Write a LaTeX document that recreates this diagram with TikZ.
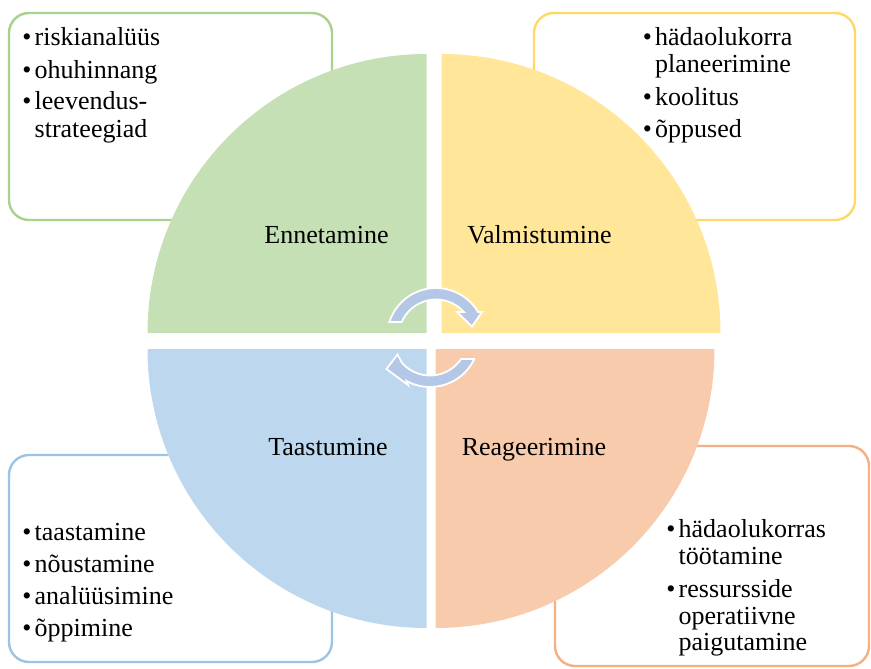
\documentclass[tikz,border=0pt]{standalone}
\usepackage{fontspec}
\setmainfont{Liberation Serif}
\usetikzlibrary{calc}
\definecolor{gfill}{HTML}{C5E0B4}
\definecolor{yfill}{HTML}{FFE699}
\definecolor{bfill}{HTML}{BDD7EE}
\definecolor{ofill}{HTML}{F8CBAD}
\definecolor{gline}{HTML}{A9D18E}
\definecolor{yline}{HTML}{FFD966}
\definecolor{bline}{HTML}{9DC3E6}
\definecolor{oline}{HTML}{F4B183}
\definecolor{arrowc}{HTML}{B4C7E7}
\begin{document}
\begin{tikzpicture}[x=1pt,y=-1pt,
  infobox/.style={line width=2.4pt, rounded corners=20pt, fill=white},
  lab/.style={font=\fontsize{26}{31}\selectfont, inner sep=0pt, anchor=base west},
  bul/.style={font=\fontsize{26}{31}\selectfont, inner sep=0pt, anchor=base},
  phase/.style={font=\fontsize{26}{31}\selectfont, inner sep=0pt, anchor=base},
  cyc/.style={fill=arrowc, draw=white, line width=1.8pt, line join=miter}]
\useasboundingbox (0,0) rectangle (871,669);

% info boxes
\draw[infobox, draw=gline] (9,13) rectangle (332,220);
\draw[infobox, draw=yline] (534,13) rectangle (855,220);
\draw[infobox, draw=bline] (9,455) rectangle (332,662);
\draw[infobox, draw=oline] (555,446) rectangle (869,666);

% quadrants
\fill[gfill] (426.5,333) -- (147.5,333) arc[start angle=180, end angle=270, radius=279] -- cycle;
\fill[yfill] (441.5,333) -- (441.5,54) arc[start angle=270, end angle=360, radius=279] -- cycle;
\fill[ofill] (435.5,349) -- (714.5,349) arc[start angle=0, end angle=90, radius=279] -- cycle;
\fill[bfill] (426.5,349) -- (426.5,628) arc[start angle=90, end angle=180, radius=279] -- cycle;

% cycle arrows
\coordinate (tc) at (436,337);
\coordinate (bc) at (430,338);
\path[cyc] ($(tc)+(-162.2:49)$) arc[start angle=-162.2, end angle=-30.7, radius=49]
  -- (482,312) -- (472,326.5) -- (457,312)
  -- ($(tc)+(-41.8:37.5)$) arc[start angle=-41.8, end angle=-156.4, radius=37.5] -- cycle;
\path[cyc] ($(bc)+(25.4:49)$) arc[start angle=25.4, end angle=118.6, radius=49]
  -- (408,385) -- (386.5,369) -- (397.5,354.5)
  -- ($(bc)+(138:37.5)$) arc[start angle=138, end angle=34.1, radius=37.5] -- cycle;

% phase labels
\node[phase] (ennet) at (326.5,243) {Ennetamine};
\node[phase] (valm) at (539.5,243) {Valmistumine};
\node[phase] (taast) at (328,455) {Taastumine};
\node[phase] (reag) at (534,455) {Reageerimine};

% top-left items
\node[bul] (b11) at (27,46) {•};
\node[lab] (t11) at (34.5,46) {riskianalüüs};
\node[bul] (b12) at (27,78) {•};
\node[lab] (t12) at (34.5,78) {ohuhinnang};
\node[bul] (b13) at (27,110) {•};
\node[lab] (t13) at (34.5,110) {leevendus-};
\node[lab] (t14) at (34.5,137) {strateegiad};

% top-right items
\node[bul] (b21) at (647.5,46) {•};
\node[lab] (t21) at (655,46) {hädaolukorra};
\node[lab] (t22) at (655,73) {planeerimine};
\node[bul] (b23) at (647.5,106) {•};
\node[lab] (t23) at (655,106) {koolitus};
\node[bul] (b24) at (647.5,137.5) {•};
\node[lab] (t24) at (655,137.5) {õppused};

% bottom-left items
\node[bul] (b31) at (27,540) {•};
\node[lab] (t31) at (34.5,540) {taastamine};
\node[bul] (b32) at (27,572.5) {•};
\node[lab] (t32) at (34.5,572.5) {nõustamine};
\node[bul] (b33) at (27,604.5) {•};
\node[lab] (t33) at (34.5,604.5) {analüüsimine};
\node[bul] (b34) at (27,636) {•};
\node[lab] (t34) at (34.5,636) {õppimine};

% bottom-right items
\node[bul] (b41) at (671,537.5) {•};
\node[lab] (t41) at (678.5,537.5) {hädaolukorras};
\node[lab] (t42) at (678.5,564) {töötamine};
\node[bul] (b43) at (671,597) {•};
\node[lab] (t43) at (678.5,597) {ressursside};
\node[lab] (t44) at (678.5,624) {operatiivne};
\node[lab] (t45) at (678.5,650) {paigutamine};
\end{tikzpicture}
\end{document}
